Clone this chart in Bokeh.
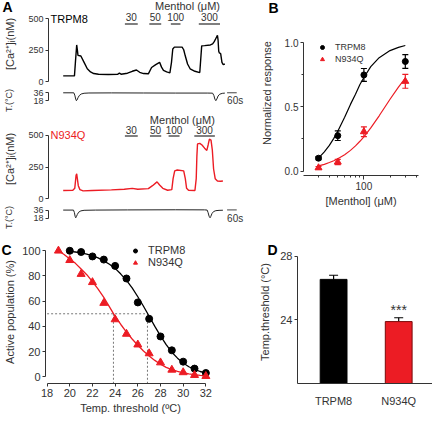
from bokeh.plotting import figure
from bokeh.layouts import column, row
from bokeh.models import (Range1d, FixedTicker, Label, ColumnDataSource, Whisker, TeeHead,
                          Legend, LegendItem, PrintfTickFormatter, Title)
from bokeh.embed import file_html
from bokeh.resources import INLINE
from bokeh.core.properties import value

FONT = "Liberation Sans"
INK = "#333333"
RED = "#ec1c24"

# ---------------- data ----------------
# Panel A: [Ca2+]i traces (time in s, concentration in nM)
trpm8_time = [0, 70, 76, 84, 88, 92, 110, 130, 150, 170, 190, 220, 280, 340, 350, 360, 400, 430,
              456, 476, 500, 530, 550, 576, 600, 612, 624, 644, 664, 674, 682, 692, 740, 750, 760,
              774, 790, 820, 850, 856, 862, 880, 916, 930, 940, 950, 960, 964, 968, 972, 980, 988,
              996, 1006]
trpm8_ca = [45, 45, 152, 290, 252, 207, 202, 152, 101, 76, 63, 58, 56, 58, 66, 58, 66, 81,
            91, 73, 63, 61, 111, 134, 152, 114, 88, 76, 68, 152, 258, 273, 273, 252, 202,
            139, 101, 81, 71, 177, 283, 285, 290, 298, 316, 341, 366, 328, 240, 227, 222, 152,
            134, 139]
n934q_time = [0, 60, 72, 80, 84, 88, 94, 104, 124, 180, 300, 380, 430, 464, 530, 556, 584, 600,
              620, 650, 676, 684, 694, 710, 750, 760, 768, 780, 820, 828, 832, 836, 850, 864,
              880, 894, 902, 910, 920, 928, 936, 946, 960, 980, 994]
n934q_ca = [66, 68, 83, 184, 197, 159, 104, 73, 63, 66, 71, 76, 83, 76, 81, 104, 134, 109,
            83, 68, 73, 159, 220, 227, 220, 159, 83, 68, 66, 159, 336, 432, 437, 424,
            399, 381, 424, 470, 462, 386, 235, 159, 141, 139, 141]
# bath temperature (deg C)
trpm8_temp_time = [0, 66, 72, 78, 82, 86, 92, 100, 112, 130, 160, 300, 500, 700, 900, 930, 938,
                   944, 950, 956, 964, 974, 990, 1006]
trpm8_temp = [36.2, 36.2, 31, 22, 18.5, 20, 25, 30, 33.5, 35.2, 35.8, 36, 35.8, 35.6, 35.6, 35.4,
              30, 22, 18.5, 22, 29, 33, 35, 35.5]
n934q_temp_time = [0, 64, 70, 74, 78, 82, 88, 96, 110, 130, 200, 400, 700, 880, 896, 902, 908,
                   914, 918, 926, 936, 950, 970, 994]
n934q_temp = [35.8, 35.8, 30, 22, 18.5, 21, 26, 31, 34, 35.3, 35.8, 36.2, 36.5, 36.3, 35.8, 30,
              22, 18.5, 21, 28, 32.5, 34.5, 35.2, 35.5]
menthol_doses = ["30", "50", "100", "300"]
trpm8_menthol_on = [384, 536, 670, 844]
trpm8_menthol_off = [464, 610, 730, 976]
n934q_menthol_on = [384, 540, 656, 816]
n934q_menthol_off = [464, 610, 724, 944]
scalebar_s = 60

# Panel B: dose response
conc = [30, 50, 100, 300]
b_trpm8 = [0.10, 0.276, 0.75, 0.855]
b_trpm8_err = [0.012, 0.038, 0.05, 0.054]
b_n934q = [0.025, 0.07, 0.307, 0.70]
b_n934q_err = [0.01, 0.02, 0.038, 0.054]
fit_conc = [30, 35, 40, 45, 50, 60, 70, 80, 90, 100, 120, 150, 200, 250, 300]
fit_trpm8 = [0.10, 0.15, 0.20, 0.255, 0.31, 0.42, 0.52, 0.60, 0.675, 0.73, 0.815, 0.885, 0.94, 0.965, 0.98]
fit_n934q = [0.04, 0.052, 0.066, 0.08, 0.095, 0.127, 0.161, 0.196, 0.232, 0.267, 0.336, 0.431, 0.56, 0.655, 0.725]

# Panel C: active population vs temperature threshold
c_temp_trpm8 = [20, 21, 22, 23, 24, 25, 26, 27, 28, 29, 30, 31, 32]
c_pop_trpm8 = [100, 99, 95.5, 93, 88, 78, 59, 46, 32, 21, 12, 6.5, 3]
c_temp_n934q = [19, 20, 21, 22, 23, 24, 25, 26, 27, 28, 29, 30, 31, 32]
c_pop_n934q = [100, 92.5, 81.5, 75, 58.5, 45.5, 34, 25.5, 18.5, 11.3, 5.5, 3.5, 1.3, 0.5]
c_fit_trpm8_t = [20, 20.5, 21, 21.5, 22, 22.5, 23, 23.5, 24, 24.5, 25, 25.5, 26, 26.5, 27, 27.5,
                 28, 28.5, 29, 29.5, 30, 30.5, 31, 31.5, 32]
c_fit_trpm8 = [99.5, 99, 98.3, 97.3, 96, 94.3, 92, 89.3, 86, 81.5, 76.5, 70.5, 63.5, 56, 48, 40,
               32.5, 25.5, 19.5, 14.8, 11, 8, 5.8, 4.2, 3]
c_fit_n934q_t = [19, 19.5, 20, 20.5, 21, 21.5, 22, 22.5, 23, 23.5, 24, 24.5, 25, 25.5, 26, 26.5,
                 27, 27.5, 28, 28.5, 29, 29.5, 30, 30.5, 31, 31.5, 32]
c_fit_n934q = [100, 97, 93.5, 90, 85.5, 81, 75.5, 69.5, 63, 55.5, 48, 41.5, 35.5, 30, 25, 20.5,
               16.5, 13, 10, 7.5, 5.7, 4.3, 3.2, 2.4, 1.7, 1.2, 0.8]
c_t50 = [26.85, 23.85]
c_x_ticks = [18, 20, 22, 24, 26, 28, 30, 32]
c_y_ticks = [0, 20, 40, 60, 80, 100]

# Panel D: mean temperature threshold
d_genotypes = ["TRPM8", "N934Q"]
d_thr = [26.55, 23.9]
d_err = [0.26, 0.24]
d_y_ticks = [20, 24, 28]


# ---------------- helpers ----------------
def lin(pa, va, pb, vb, p):
    return va + (p - pa) * (vb - va) / (pb - pa)


def mk(W, H, bl, br, bt, bb, xr, yr, **kw):
    p = figure(width=W, height=H, x_range=Range1d(*xr), y_range=Range1d(*yr),
               min_border_left=bl, min_border_right=br, min_border_top=bt, min_border_bottom=bb,
               output_backend="svg", toolbar_location=None, **kw)
    p.grid.visible = False
    p.outline_line_color = None
    return p


def style_axis(ax, size="10px"):
    ax.axis_line_color = INK
    ax.major_tick_line_color = INK
    ax.minor_tick_line_color = INK
    ax.major_label_text_font = FONT
    ax.major_label_text_font_size = size
    ax.major_label_text_color = INK
    ax.axis_label_text_font = FONT
    ax.axis_label_text_font_style = "normal"
    ax.axis_label_text_color = INK
    ax.axis_label_text_font_size = "11px"
    ax.major_tick_in = 0
    ax.minor_tick_in = 0


def letter(p, t, offset, standoff):
    p.title = Title(text=t, align="left", offset=offset, standoff=standoff,
                    vertical_align="bottom", text_font=FONT, text_font_style="bold",
                    text_font_size="14px", text_color="black")


WL = 257
# time axis shared by panel A traces
T0PX, SPX = 62.7, 6.224
def tpx(px):
    return (px - T0PX) * SPX
xA = (tpx(48), tpx(WL))


def ca_panel(H, p500, p0, times, ca, color, name, on, off, title_px, lab_px, bar_px):
    yv = lambda px: lin(p500, 500, p0, 0, px)
    p = mk(WL, H, 48, 0, 0, 0, xA, (yv(H), yv(0)), x_axis_location=None)
    style_axis(p.yaxis[0], "9px")
    ax = p.yaxis[0]
    ax.ticker = FixedTicker(ticks=[0, 250, 500])
    ax.bounds = (0, 500)
    ax.major_tick_out = 3
    ax.major_label_standoff = 2
    ax.axis_label = "[Ca²⁺]ᵢ(nM)"
    ax.axis_label_standoff = 9
    p.line(times, ca, line_color=color, line_width=1.4)
    p.segment(x0=on, y0=[yv(bar_px)] * len(on), x1=off, y1=[yv(bar_px)] * len(on),
              line_color="#555555", line_width=1.5)
    p.text(x=[(a + b) / 2 for a, b in zip(on, off)], y=[yv(lab_px)] * len(on), text=menthol_doses,
           text_font=value(FONT), text_font_size=value("10px"), text_color=INK,
           text_align="center", text_baseline="middle")
    p.add_layout(Label(x=off[-1], y=yv(title_px), text="Menthol (μM)", text_font=FONT,
                       text_font_size="11px", text_color=INK, text_align="right",
                       text_baseline="middle"))
    p.add_layout(Label(x=tpx(50), y=500, text=name, text_font=FONT, text_font_size="11px",
                       text_color=color, text_align="left", text_baseline="middle"))
    return p


def temp_panel(H, p36, p18, times, temps, bar_temp, txt_temp):
    yv = lambda px: lin(p36, 36, p18, 18, px)
    p = mk(WL, H, 48, 0, 0, 0, xA, (yv(H), yv(0)), x_axis_location=None)
    style_axis(p.yaxis[0], "9px")
    ax = p.yaxis[0]
    ax.ticker = FixedTicker(ticks=[18, 36])
    ax.bounds = (18, 36)
    ax.major_tick_out = 3
    ax.major_label_standoff = 2
    ax.axis_label = "T.(°C)"
    ax.axis_label_text_font_size = "9px"
    ax.axis_label_standoff = 16
    p.line(times, temps, line_color="#222222", line_width=1)
    sb0 = 1020
    p.segment(x0=[sb0], y0=[bar_temp], x1=[sb0 + scalebar_s], y1=[bar_temp],
              line_color="#444444", line_width=1)
    p.text(x=[sb0], y=[txt_temp], text=["%ds" % scalebar_s], text_font=value(FONT),
           text_font_size=value("10px"), text_color=INK, text_align="left",
           text_baseline="middle")
    return p


A1 = ca_panel(87, 18, 81, trpm8_time, trpm8_ca, "black", "TRPM8",
              trpm8_menthol_on, trpm8_menthol_off, 5, 16.5, 23.5)
letter(A1, "A", -46, -28)
A1T = temp_panel(26, 5.4, 13.4, trpm8_temp_time, trpm8_temp, 36.3, 20)
A2 = ca_panel(91, 21.8, 85.4, n934q_time, n934q_ca, RED, "N934Q",
              n934q_menthol_on, n934q_menthol_off, 6, 16.5, 22.5)
A2T = temp_panel(26, 5.5, 13.5, n934q_temp_time, n934q_temp, 36.2, 18)

# ---------------- panel B ----------------
WB, HB = 175, 240
bx = lambda px: 10 ** (2 + (px - 106.4) / 86.8)
by = lambda px: lin(42.4, 1.0, 170.5, 0.0, px)
B = mk(WB, HB, 46, 14, 10, 65, (bx(46), bx(161)), (by(175), by(10)), x_axis_type="log")
for ax in (B.xaxis[0], B.yaxis[0]):
    style_axis(ax)
B.yaxis[0].ticker = FixedTicker(ticks=[0, 0.5, 1.0], minor_ticks=[0.25, 0.75])
B.yaxis[0].formatter = PrintfTickFormatter(format="%.1f")
B.yaxis[0].bounds = (0, 1)
B.yaxis[0].major_tick_out = 3
B.yaxis[0].minor_tick_out = 2
B.yaxis[0].major_label_standoff = 2
B.yaxis[0].axis_label = "Normalized response"
B.yaxis[0].axis_label_standoff = 9
B.xaxis[0].ticker = FixedTicker(ticks=[100], minor_ticks=[20, 30, 40, 50, 60, 70, 80, 90, 200, 300, 400])
B.xaxis[0].formatter = PrintfTickFormatter(format="%d")
B.xaxis[0].major_tick_out = 4
B.xaxis[0].minor_tick_out = 2
B.xaxis[0].major_label_standoff = 2
B.xaxis[0].axis_label = "[Menthol] (μM)"
B.xaxis[0].axis_label_standoff = 2

B.line(fit_conc, fit_trpm8, line_color="black", line_width=1.2)
B.line(fit_conc, fit_n934q, line_color=RED, line_width=1.2)
src_bk = ColumnDataSource(dict(x=conc, y=b_trpm8, lo=[v - e for v, e in zip(b_trpm8, b_trpm8_err)],
                               up=[v + e for v, e in zip(b_trpm8, b_trpm8_err)]))
src_rd = ColumnDataSource(dict(x=conc, y=b_n934q, lo=[v - e for v, e in zip(b_n934q, b_n934q_err)],
                               up=[v + e for v, e in zip(b_n934q, b_n934q_err)]))
for src, col in ((src_bk, "black"), (src_rd, RED)):
    B.add_layout(Whisker(source=src, base="x", upper="up", lower="lo", line_color=col,
                         line_width=1.2,
                         upper_head=TeeHead(size=6, line_color=col, line_width=1.2),
                         lower_head=TeeHead(size=6, line_color=col, line_width=1.2)))
rb1 = B.scatter("x", "y", source=src_bk, marker="circle", size=6, fill_color="black", line_color="black")
rb2 = B.scatter("x", "y", source=src_rd, marker="triangle", size=7, fill_color=RED, line_color=RED)
legB = Legend(items=[LegendItem(label="TRPM8", renderers=[rb1]), LegendItem(label="N934Q", renderers=[rb2])],
              location=(14, 110), border_line_color=None, background_fill_alpha=0, padding=0,
              margin=0, spacing=0, glyph_width=10, glyph_height=12, label_height=12,
              label_text_font=FONT, label_text_font_size="9px", label_text_color=INK,
              label_standoff=8)
B.add_layout(legB)
letter(B, "B", -35, -11)

# ---------------- panel C ----------------
WC, HC = 256, 176
cx = lambda px: lin(46.6, 18, 46.6 + 11.34, 19, px)
cy = lambda px: lin(10.4, 100, 138.2, 0, px)
C = mk(WC, HC, 45, 41, 0, 31, (cx(45), cx(215)), (cy(145), cy(0)))
for ax in (C.xaxis[0], C.yaxis[0]):
    style_axis(ax, "11px")
    ax.major_tick_out = 3
    ax.major_label_standoff = 2
C.xaxis[0].ticker = FixedTicker(ticks=c_x_ticks)
C.xaxis[0].bounds = (c_x_ticks[0], c_x_ticks[-1])
C.xaxis[0].axis_label = "Temp. threshold (ºC)"
C.xaxis[0].axis_label_standoff = 2
C.yaxis[0].ticker = FixedTicker(ticks=c_y_ticks)
C.yaxis[0].bounds = (c_y_ticks[0], c_y_ticks[-1])
C.yaxis[0].axis_label = "Active population (%)"
C.yaxis[0].axis_label_standoff = 3

ybot = cy(145)
C.segment(x0=[c_x_ticks[0]], y0=[50], x1=[max(c_t50)], y1=[50], line_color="#777777",
          line_dash="2 2", line_width=1)
C.segment(x0=c_t50, y0=[50] * len(c_t50), x1=c_t50, y1=[ybot] * len(c_t50), line_color="#777777",
          line_dash="2 2", line_width=1)
C.line(c_fit_trpm8_t, c_fit_trpm8, line_color="black", line_width=1.3)
C.line(c_fit_n934q_t, c_fit_n934q, line_color=RED, line_width=1.3)
rc1 = C.scatter(c_temp_trpm8, c_pop_trpm8, marker="circle", size=7, fill_color="black", line_color="black")
rc2 = C.scatter(c_temp_n934q, c_pop_n934q, marker="triangle", size=8, fill_color=RED, line_color=RED)
legC = Legend(items=[LegendItem(label="TRPM8", renderers=[rc1]), LegendItem(label="N934Q", renderers=[rc2])],
              location=(85, 115), border_line_color=None, background_fill_alpha=0, padding=0,
              margin=0, spacing=0, glyph_width=10, glyph_height=11, label_height=11,
              label_text_font=FONT, label_text_font_size="11px", label_text_color=INK,
              label_standoff=8)
C.add_layout(legC)
letter(C, "C", -44, -34)

# ---------------- panel D ----------------
WD, HD = 176, 176
dx = lambda px: lin(72.7, 1, 140.7, 2, px)
dy = lambda px: lin(15.9, 28, 144.2, 20, px)
D = mk(WD, HD, 35, 0, 0, 32, (dx(35), dx(176)), (dy(144), dy(0)))
for ax in (D.xaxis[0], D.yaxis[0]):
    style_axis(ax, "11px")
D.yaxis[0].ticker = FixedTicker(ticks=d_y_ticks)
D.yaxis[0].bounds = (d_y_ticks[0], d_y_ticks[-1])
D.yaxis[0].major_tick_out = 3
D.yaxis[0].major_label_standoff = 2
D.yaxis[0].axis_label = "Temp.threshold (°C)"
D.yaxis[0].axis_label_standoff = 6
xs = [i + 1 for i in range(len(d_genotypes))]
D.xaxis[0].ticker = FixedTicker(ticks=xs)
D.xaxis[0].major_label_overrides = {x: g for x, g in zip(xs, d_genotypes)}
D.xaxis[0].major_tick_line_color = None
D.xaxis[0].major_label_standoff = 5
D.vbar(x=xs, top=d_thr, bottom=d_y_ticks[0], width=28 / 68, fill_color=["black", RED],
       line_color=["black", "#7a0a0a"], line_width=1)
src_d = ColumnDataSource(dict(x=xs, lo=d_thr, up=[v + e for v, e in zip(d_thr, d_err)]))
D.add_layout(Whisker(source=src_d, base="x", upper="up", lower="lo", line_color="black",
                     line_width=1.2, upper_head=TeeHead(size=9, line_color="black", line_width=1.2),
                     lower_head=None))
D.text(x=[xs[1]], y=[d_thr[1] + d_err[1]], text=["***"], text_font=value(FONT),
       text_font_size=value("14px"), text_color=INK, text_align="center",
       text_baseline="bottom", y_offset=value(0))
letter(D, "D", -30, -34)

layout = column(row(column(A1, A1T, A2, A2T), B), row(C, D))
open("out.html", "w").write(file_html(layout, INLINE, title="TRPM8 N934Q"))
